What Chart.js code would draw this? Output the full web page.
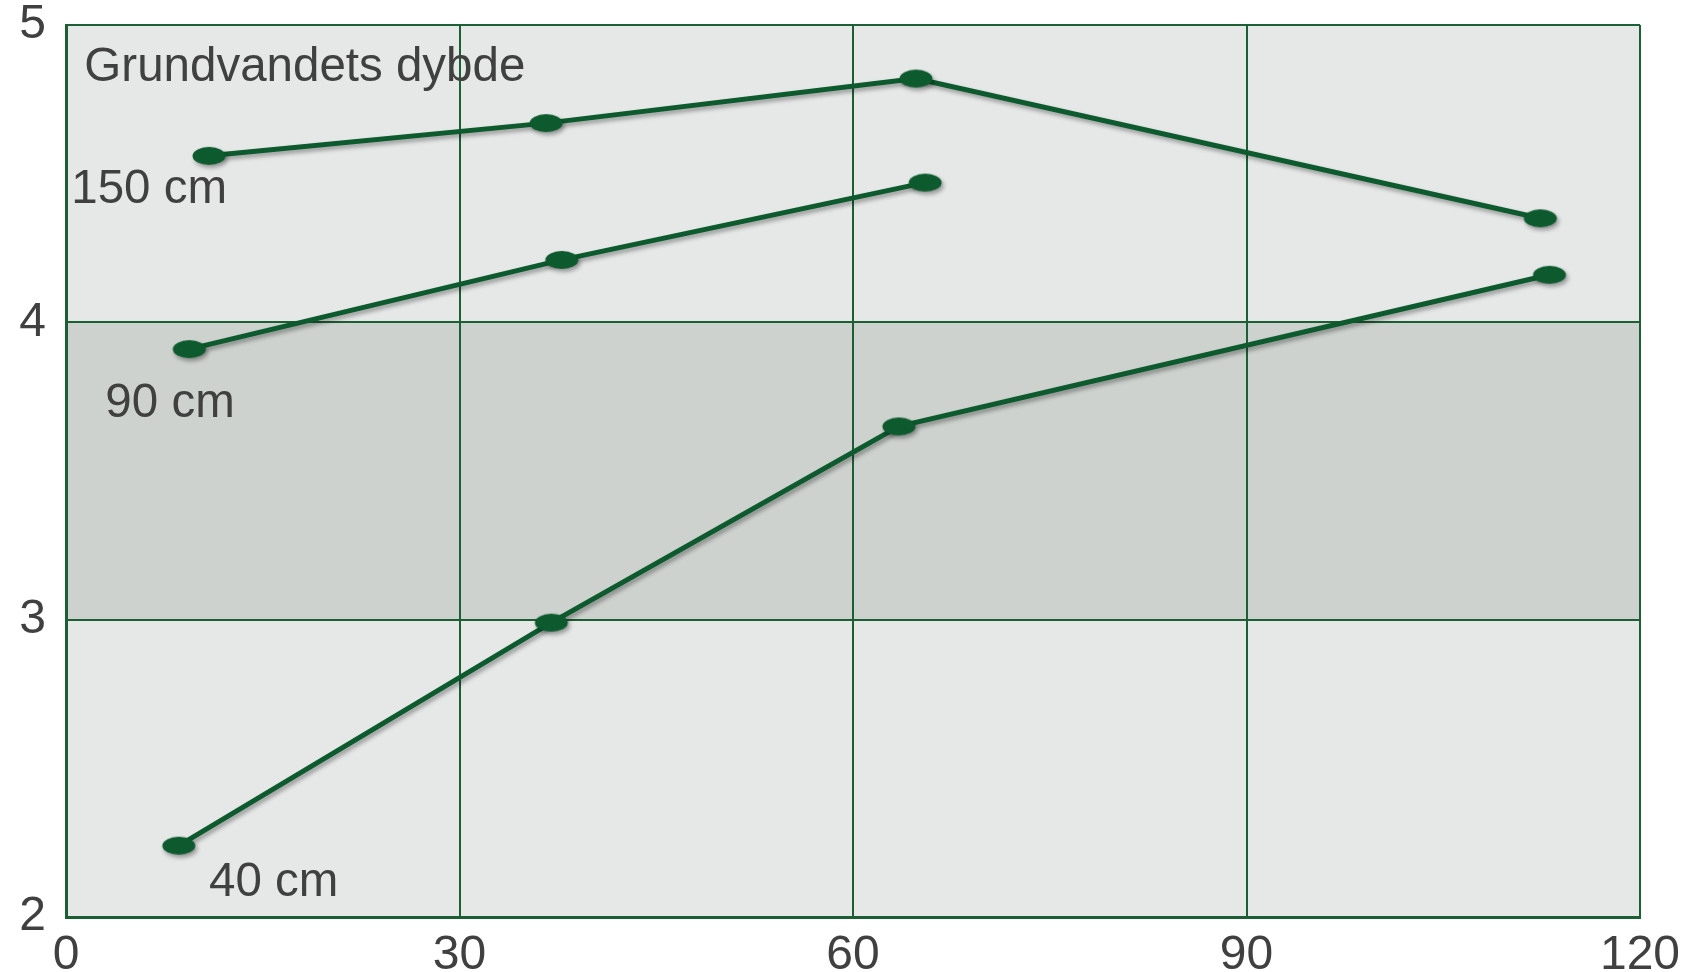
<!DOCTYPE html>
<html>
<head>
<meta charset="utf-8">
<script src="https://cdn.jsdelivr.net/npm/chart.js@4.4.1/dist/chart.umd.min.js"></script>
<style>
  body { margin: 0; background: #fff; }
  #wrap { width: 1694px; height: 972px; position: relative; }
</style>
</head>
<body>
<div id="wrap"><canvas id="depthChart"></canvas></div>
<script>
// x values (days) and y values per groundwater depth
const days150 = [10.9, 36.6, 64.8, 112.4];
const vals150 = [4.56, 4.67, 4.82, 4.35];
const days90 = [9.4, 37.8, 65.5];
const vals90 = [3.91, 4.21, 4.47];
const days40 = [8.6, 37.0, 63.5, 113.1];
const vals40 = [2.24, 2.99, 3.65, 4.16];
const xTicks = [0, 30, 60, 90, 120];
const yTicks = [2, 3, 4, 5];
const bandRange = [3, 4];

const lineColor = "#0c5a2d";
const gridColor = "#1c5f34";
const textColor = "#404040";
const fontFamily = "'Liberation Sans', Arial, sans-serif";

function toPoints(xs, ys) {
    return xs.map((x, i) => ({ x: x, y: ys[i] }));
}

// oval marker as image
function makeMarker() {
    const c = document.createElement('canvas');
    c.width = 36;
    c.height = 22;
    const g = c.getContext('2d');
    g.fillStyle = lineColor;
    g.beginPath();
    g.ellipse(18, 11, 16.5, 9, 0, 0, Math.PI * 2);
    g.fill();
    return c;
}
const marker = makeMarker();

const annotations = [
    { text: "Grundvandets dybde", x: 1.4, y: 4.81 },
    { text: "150 cm", x: 0.4, y: 4.40 },
    { text: "90 cm", x: 3.0, y: 3.68 },
    { text: "40 cm", x: 10.9, y: 2.07 }
];

const backgroundPlugin = {
    id: 'plotBackground',
    beforeDraw(chart) {
        const { ctx, chartArea, scales } = chart;
        ctx.save();
        ctx.fillStyle = "#e6e8e7";
        ctx.fillRect(chartArea.left, chartArea.top, chartArea.width, chartArea.height);
        const yTop = scales.y.getPixelForValue(bandRange[1]);
        const yBot = scales.y.getPixelForValue(bandRange[0]);
        ctx.fillStyle = "#cdd2ce";
        ctx.fillRect(chartArea.left, yTop, chartArea.width, yBot - yTop);
        ctx.restore();
    },
    beforeDatasetsDraw(chart) {
        const ctx = chart.ctx;
        ctx.save();
        ctx.shadowColor = "rgba(0,0,0,0.35)";
        ctx.shadowBlur = 4;
        ctx.shadowOffsetX = 2;
        ctx.shadowOffsetY = 3;
    },
    afterDatasetsDraw(chart) {
        chart.ctx.restore();
        const { ctx, scales } = chart;
        ctx.save();
        ctx.fillStyle = textColor;
        ctx.font = "47.5px " + fontFamily;
        ctx.textAlign = "left";
        ctx.textBaseline = "alphabetic";
        annotations.forEach(a => {
            ctx.fillText(a.text, scales.x.getPixelForValue(a.x), scales.y.getPixelForValue(a.y));
        });
        ctx.restore();
    }
};

function series(xs, ys) {
    return {
        data: toPoints(xs, ys),
        showLine: true,
        borderColor: lineColor,
        borderWidth: 5,
        pointStyle: marker,
        pointRadius: 10,
        backgroundColor: lineColor
    };
}

new Chart(document.getElementById('depthChart'), {
    type: 'scatter',
    data: {
        datasets: [
            series(days150, vals150),
            series(days90, vals90),
            series(days40, vals40)
        ]
    },
    options: {
        responsive: true,
        maintainAspectRatio: false,
        animation: false,
        layout: { padding: 0 },
        plugins: {
            legend: { display: false },
            tooltip: { enabled: false }
        },
        scales: {
            x: {
                type: 'linear',
                min: 0,
                max: 120,
                afterBuildTicks: s => { s.ticks = xTicks.map(v => ({ value: v })); },
                afterFit: s => {
                    s.height = 55;
                    s.paddingLeft = 0;
                    s.paddingRight = 54;
                },
                grid: { color: gridColor, lineWidth: 2, drawTicks: false },
                border: { color: gridColor, width: 3 },
                ticks: {
                    color: textColor,
                    padding: 10,
                    maxRotation: 0,
                    font: { family: fontFamily, size: 48 }
                }
            },
            y: {
                type: 'linear',
                min: 2,
                max: 5,
                afterBuildTicks: s => { s.ticks = yTicks.map(v => ({ value: v })); },
                afterFit: s => {
                    s.width = 66;
                    s.paddingTop = 25;
                    s.paddingBottom = 0;
                },
                grid: { color: gridColor, lineWidth: 2, drawTicks: false },
                border: { color: gridColor, width: 3 },
                ticks: {
                    color: textColor,
                    padding: 20,
                    font: { family: fontFamily, size: 48 }
                }
            }
        }
    },
    plugins: [backgroundPlugin]
});
</script>
</body>
</html>
